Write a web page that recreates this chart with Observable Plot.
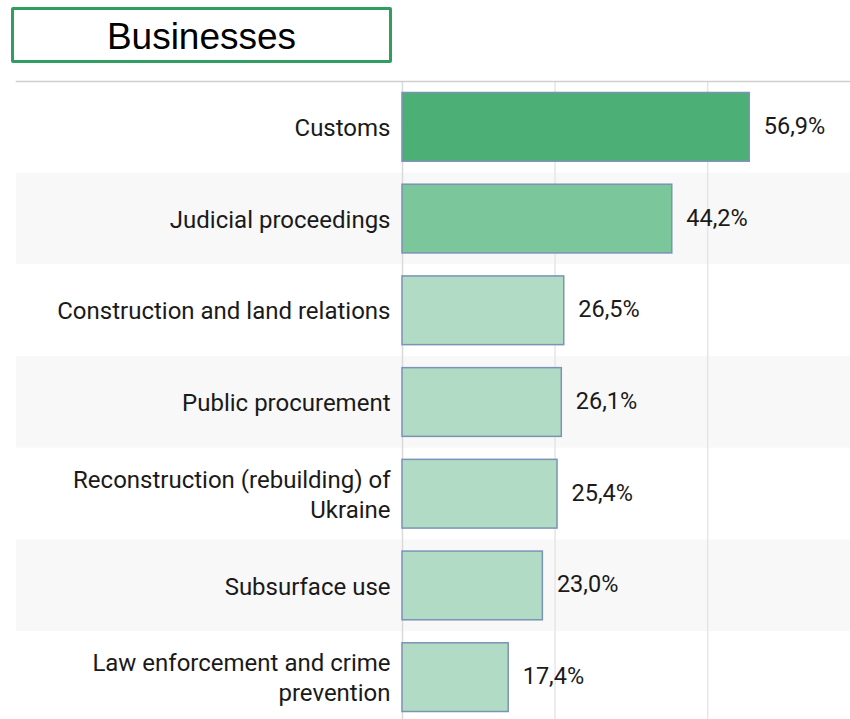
<!DOCTYPE html>
<html><head><meta charset="utf-8">
<script src="https://cdn.jsdelivr.net/npm/d3@7"></script>
<script src="https://cdn.jsdelivr.net/npm/@observablehq/plot@0.6"></script>
<style>
body{margin:0;background:#fff;}
#wrap{position:relative;width:850px;height:719px;overflow:hidden;}
#title{position:absolute;left:11px;top:7px;width:375px;border:3px solid #2f9e5f;border-radius:2px;font:37px "Liberation Sans",Arial,sans-serif;display:flex;align-items:center;justify-content:center;color:#000;padding-top:3px;box-sizing:content-box;height:47px;}
#chart{position:absolute;left:0;top:70px;}
</style></head><body>
<div id="wrap"><div id="title">Businesses</div><div id="chart"></div></div>
<script>
const categories = ["Customs","Judicial proceedings","Construction and land relations","Public procurement","Reconstruction (rebuilding) of Ukraine","Subsurface use","Law enforcement and crime prevention"];
const labels = ["Customs","Judicial proceedings","Construction and land relations","Public procurement","Reconstruction (rebuilding) of\nUkraine","Subsurface use","Law enforcement and crime\nprevention"];
const values = [56.9,44.2,26.5,26.1,25.4,23.0,17.4];
const gridTicks = [25,50];

const data = categories.map((c,i)=>({cat:c,label:labels[i],value:values[i],i}));
const fmt = v => v.toFixed(1).replace(".", ",") + "%";
const barFill = d => d.i===0 ? "#4caf76" : d.i===1 ? "#7cc69b" : "#b1dbc5";

const chart = Plot.plot({
  width:850, height:653, marginTop:11, marginBottom:0, marginLeft:402, marginRight:0,
  style:{fontFamily:"Roboto, sans-serif", background:"transparent"},
  x:{domain:[0,73.4], axis:null},
  y:{domain:categories, padding:0, round:false, axis:null},
  marks:[
    Plot.cell(data,{y:"cat", fill:d=> d.i%2 ? "#f8f8f8":"#ffffff", insetLeft:-386}),
    Plot.ruleX(gridTicks,{stroke:"#e6e6e6", strokeWidth:1.5}),
    Plot.ruleX([0],{stroke:"#d9d9d9", strokeWidth:1.5}),
    Plot.frame({anchor:"top", stroke:"#cfcfcf", strokeWidth:1.5, insetLeft:-386}),
    Plot.barX(data,{y:"cat", x:"value", fill:barFill, stroke:"#7b93b6", strokeWidth:1.5, insetTop:11.5, insetBottom:11.5}),
    Plot.text(data,{y:"cat", x:"value", text:d=>fmt(d.value), textAnchor:"start", dx:14, dy:-1, fontSize:23.5, fill:"#1a1a1a"}),
    Plot.text(data,{y:"cat", frameAnchor:"left", text:"label", textAnchor:"end", dx:-12, dy:-1, fontSize:24, lineHeight:1.25, fill:"#1a1a1a"})
  ]
});
document.getElementById("chart").appendChild(chart);
</script>
</body></html>
